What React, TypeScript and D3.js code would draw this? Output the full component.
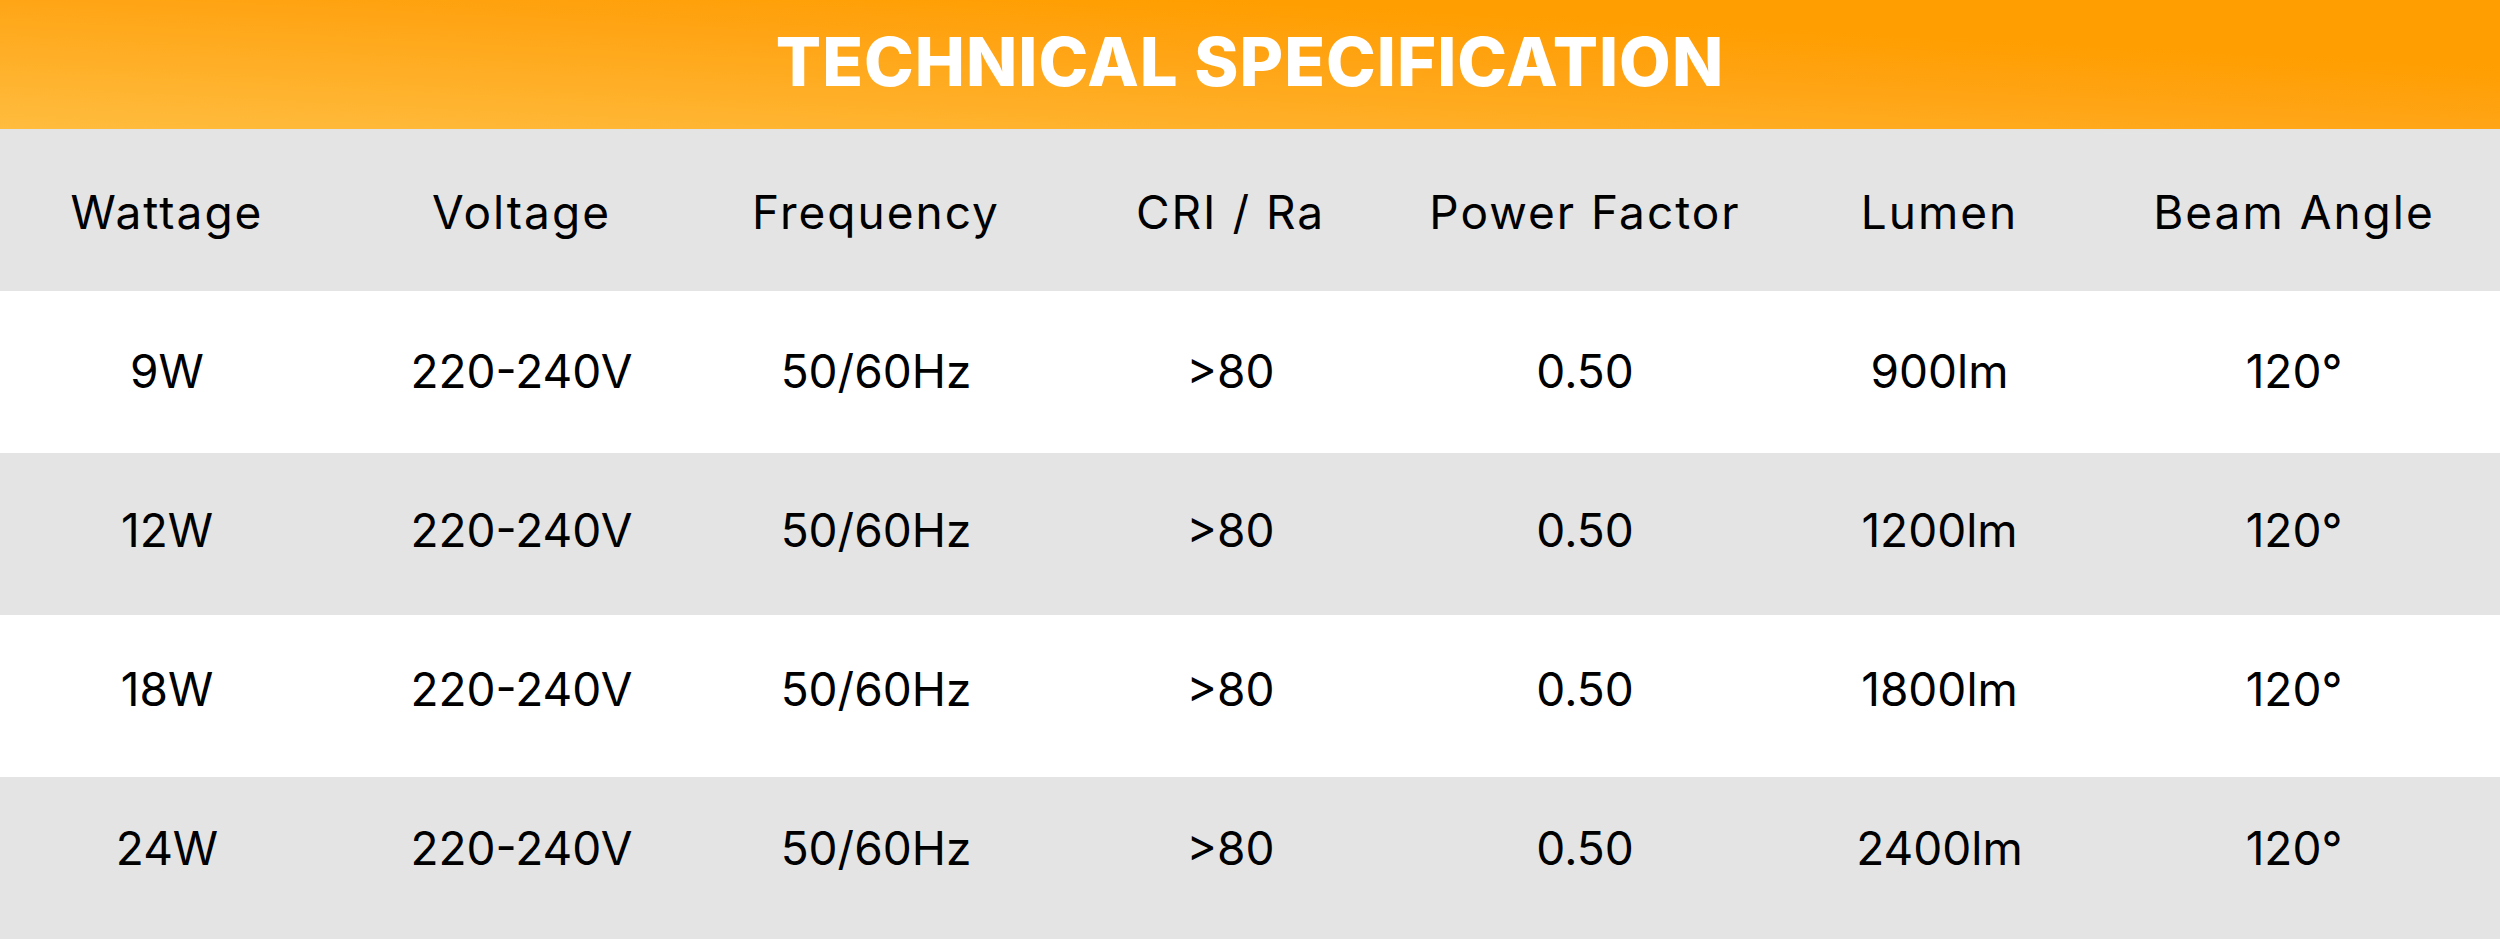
import React from 'react';
import * as d3 from 'd3';

// Table content
const title = 'TECHNICAL SPECIFICATION';
const columns = ['Wattage', 'Voltage', 'Frequency', 'CRI / Ra', 'Power Factor', 'Lumen', 'Beam Angle'];
const wattage = ['9W', '12W', '18W', '24W'];
const voltage = ['220-240V', '220-240V', '220-240V', '220-240V'];
const frequency = ['50/60Hz', '50/60Hz', '50/60Hz', '50/60Hz'];
const cri = ['>80', '>80', '>80', '>80'];
const powerFactor = ['0.50', '0.50', '0.50', '0.50'];
const lumen = ['900lm', '1200lm', '1800lm', '2400lm'];
const beamAngle = ['120°', '120°', '120°', '120°'];

const W = 2500;
const H = 939;
const titleH = 129;
const FONT = 'Inter, "Open Sans", sans-serif';

const App: React.FC = () => {
  const rows = wattage.map((w, i) => [w, voltage[i], frequency[i], cri[i], powerFactor[i], lumen[i], beamAngle[i]]);
  const rowKeys = ['head', ...rows.map((_, i) => String(i))];

  const x = d3.scalePoint<number>()
    .domain(d3.range(columns.length))
    .range([167, 2294]);

  const y = d3.scaleBand<string>()
    .domain(rowKeys)
    .range([titleH, H])
    .padding(0);

  const bh = y.bandwidth();

  return (
    <svg width={W} height={H} style={{ position: 'absolute', left: 0, top: 0, display: 'block' }}>
      <defs>
        <linearGradient id="hdr" x1="0" y1="1" x2="1" y2="0">
          <stop offset="0%" stopColor="#FFBC3E" />
          <stop offset="55%" stopColor="#FFA312" />
          <stop offset="75%" stopColor="#FF9E00" />
          <stop offset="100%" stopColor="#FF9E00" />
        </linearGradient>
      </defs>

      {/* title bar */}
      <rect x={0} y={0} width={W} height={titleH} fill="url(#hdr)" />
      <text
        x={W / 2}
        y={86}
        textAnchor="middle"
        fill="#ffffff"
        fontFamily={FONT}
        fontWeight={800}
        fontSize={67}
        letterSpacing={1}
      >
        {title}
      </text>

      {/* row stripes */}
      {rowKeys.map((k, i) => (
        <rect key={k} x={0} y={y(k)} width={W} height={bh} fill={i % 2 === 0 ? '#E4E4E4' : '#FFFFFF'} />
      ))}

      {/* header labels */}
      {columns.map((c, j) => (
        <text
          key={c}
          x={x(j)}
          y={(y('head') as number) + 100}
          textAnchor="middle"
          fill="#000"
          fontFamily={FONT}
          fontSize={46}
          letterSpacing={2}
        >
          {c}
        </text>
      ))}

      {/* body cells */}
      {rows.map((r, i) =>
        r.map((v, j) => (
          <text
            key={i + '-' + j}
            x={x(j)}
            y={(y(String(i)) as number) + 97 - 3 * i}
            textAnchor="middle"
            fill="#000"
            fontFamily={FONT}
            fontSize={46}
          >
            {v}
          </text>
        ))
      )}
    </svg>
  );
};

export default App;
